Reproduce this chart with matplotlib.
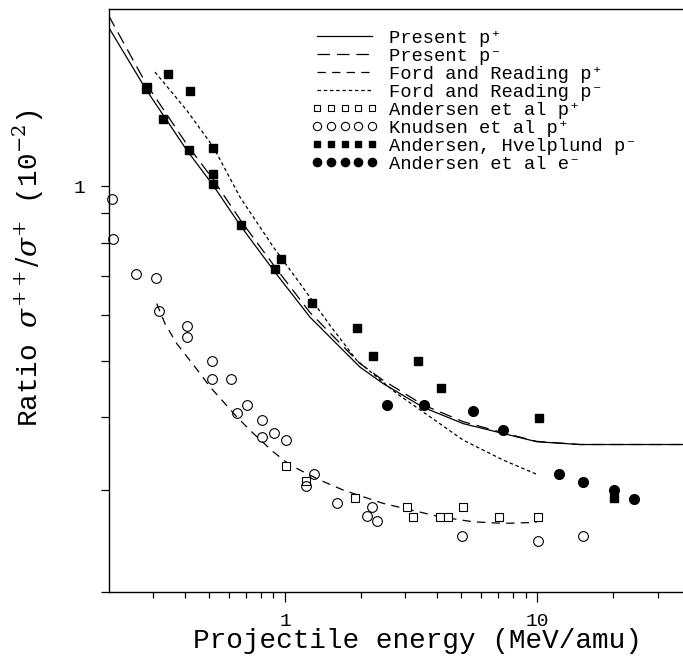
from matplotlib import pyplot
import matplotlib.ticker as ticker

pyplot.rcParams['font.family'] = ['Liberation Mono', 'DejaVu Sans Mono']
pyplot.rcParams['mathtext.fontset'] = 'dejavuserif'
pyplot.rcParams['lines.scale_dashes'] = False

# theory curves (energy in MeV/amu, ratio in 10^-2)
present_e = [0.2, 0.281, 0.409, 0.519, 0.669, 0.913, 1.256, 1.982, 2.451, 3.529, 5.084, 7.32, 9.93, 14.73, 37.7]
present_pplus = [1.88, 1.47, 1.153, 1.004, 0.853, 0.711, 0.595, 0.488, 0.457, 0.416, 0.390, 0.375, 0.363, 0.359, 0.359]
present_pminus = [1.97, 1.505, 1.18, 1.028, 0.872, 0.726, 0.606, 0.495, 0.463, 0.420, 0.393, 0.376, 0.3635, 0.359, 0.359]

ford_pplus_e = [0.3103, 0.3347, 0.3725, 0.4607, 0.5047, 0.6437, 0.7489, 0.899, 1.047, 1.376, 1.702, 2.451, 4.111, 5.569, 7.32, 9.93]
ford_pplus = [0.628, 0.580, 0.536, 0.476, 0.4513, 0.4008, 0.3752, 0.3487, 0.3309, 0.3117, 0.2996, 0.2842, 0.2695, 0.2642, 0.2626, 0.2636]

ford_pminus_e = [0.3055, 0.408, 0.520, 0.6634, 0.899, 1.147, 1.507, 1.923, 2.770, 3.752, 5.084, 7.32, 9.93]
ford_pminus = [1.573, 1.352, 1.169, 0.958, 0.786, 0.680, 0.576, 0.5016, 0.4395, 0.4008, 0.3652, 0.3375, 0.319]

# experiments
andersen_p_e = [1.009, 1.211, 1.893, 3.034, 3.223, 4.112, 4.436, 5.055, 7.06, 10.07]
andersen_p = [0.330, 0.3105, 0.290, 0.2805, 0.2695, 0.2695, 0.2695, 0.2797, 0.2695, 0.2695]

knudsen_e = [0.206, 0.209, 0.256, 0.3076, 0.318, 0.411, 0.411, 0.5125, 0.5125, 0.6131, 0.6437, 0.709, 0.8129,
             0.8129, 0.9071, 1.009, 1.211, 1.303, 1.602, 2.107, 2.217, 2.308, 5.037, 10.07, 15.18]
knudsen = [0.950, 0.810, 0.705, 0.694, 0.6104, 0.575, 0.5508, 0.5002, 0.466, 0.466, 0.4062, 0.4207, 0.3955,
           0.3693, 0.3753, 0.3652, 0.3048, 0.320, 0.285, 0.2703, 0.2805, 0.265, 0.2496, 0.2447, 0.2496]

hvelplund_e = [0.281, 0.285, 0.343, 0.330, 0.4205, 0.4155, 0.519, 0.517, 0.517, 0.668, 0.915, 0.962, 1.276,
               1.928, 2.231, 3.354, 4.159, 10.14, 20.04]
hvelplund = [1.473, 1.481, 1.563, 1.304, 1.461, 1.153, 1.164, 1.050, 1.009, 0.859, 0.719, 0.750, 0.630,
             0.569, 0.510, 0.4996, 0.4495, 0.399, 0.290]

andersen_e_e = [2.528, 3.562, 5.569, 7.28, 12.13, 15.19, 20.14, 24.1]
andersen_e = [0.420, 0.420, 0.410, 0.380, 0.319, 0.309, 0.300, 0.289]

fig = pyplot.figure(figsize=(6.83, 6.59), dpi=100)
ax = fig.add_axes([108.5/683, 1 - 592/659, 1 - 108.5/683, (592 - 9)/659])
ax.set_xscale('log')
ax.set_yscale('log')
ax.set_xlim(0.2, 37.7)
ax.set_ylim(0.2, 2.02)

lw = 0.9
h1, = ax.plot(present_e, present_pplus, c='black', lw=lw)
h2, = ax.plot(present_e, present_pminus, c='black', lw=lw, ls=(0, (9, 5)))
h3, = ax.plot(ford_pplus_e, ford_pplus, c='black', lw=lw, ls=(0, (6, 4.5)))
h4, = ax.plot(ford_pminus_e, ford_pminus, c='black', lw=lw, ls=(0, (2.5, 2)))
h5, = ax.plot(andersen_p_e, andersen_p, ls='none', marker='s', ms=5.8, mfc='white', mec='black', mew=0.8)
h6, = ax.plot(knudsen_e, knudsen, ls='none', marker='o', ms=7, mfc='none', mec='black', mew=0.8, clip_on=False)
h7, = ax.plot(hvelplund_e, hvelplund, ls='none', marker='s', ms=5.5, c='black')
h8, = ax.plot(andersen_e_e, andersen_e, ls='none', marker='o', ms=7, c='black')

labels = ['Present p⁺', 'Present p⁻', 'Ford and Reading p⁺', 'Ford and Reading p⁻',
          'Andersen et al p⁺', 'Knudsen et al p⁺', 'Andersen, Hvelplund p⁻', 'Andersen et al e⁻']
ax.legend([h1, h2, h3, h4, h5, h6, h7, h8], labels, loc='upper left', bbox_to_anchor=(0.354, 0.965),
          frameon=False, numpoints=5, fontsize=13.5, handlelength=3.5, handletextpad=0.6,
          labelspacing=0.05, borderpad=0, borderaxespad=0, markerscale=0.85)

ax.spines['right'].set_visible(False)
for s in ['left', 'bottom', 'top']:
    ax.spines[s].set_linewidth(1.0)

ax.xaxis.set_major_locator(ticker.FixedLocator([1, 10]))
ax.xaxis.set_minor_locator(ticker.FixedLocator([0.3, 0.4, 0.5, 0.6, 0.7, 0.8, 0.9, 2, 3, 4, 5, 6, 7, 8, 9, 20, 30]))
ax.xaxis.set_major_formatter(ticker.FixedFormatter(['1', '10']))
ax.xaxis.set_minor_formatter(ticker.NullFormatter())
ax.yaxis.set_major_locator(ticker.FixedLocator([1]))
ax.yaxis.set_minor_locator(ticker.FixedLocator([0.2, 0.3, 0.4, 0.5, 0.6, 0.7, 0.8, 0.9]))
ax.yaxis.set_major_formatter(ticker.FixedFormatter(['1']))
ax.yaxis.set_minor_formatter(ticker.NullFormatter())
ax.tick_params(axis='x', which='major', direction='out', length=7, width=0.9, pad=8, labelsize=14)
ax.tick_params(axis='x', which='minor', direction='out', length=4, width=0.9)
ax.tick_params(axis='y', which='major', direction='out', length=6, width=0.9, pad=11, labelsize=14)
ax.tick_params(axis='y', which='minor', direction='out', length=6, width=0.9)
ax.tick_params(top=False, right=False, which='both')

ax.set_xlabel('Projectile energy (MeV/amu)', fontsize=20)
ax.set_ylabel(r'Ratio $\sigma^{++}/\sigma^{+}$ (10$^{-2}$)', fontsize=20)
ax.xaxis.set_label_coords(0.537, -0.062)
ax.yaxis.set_label_coords(-0.109, 0.556)

fig.savefig('out.png', dpi=100)
